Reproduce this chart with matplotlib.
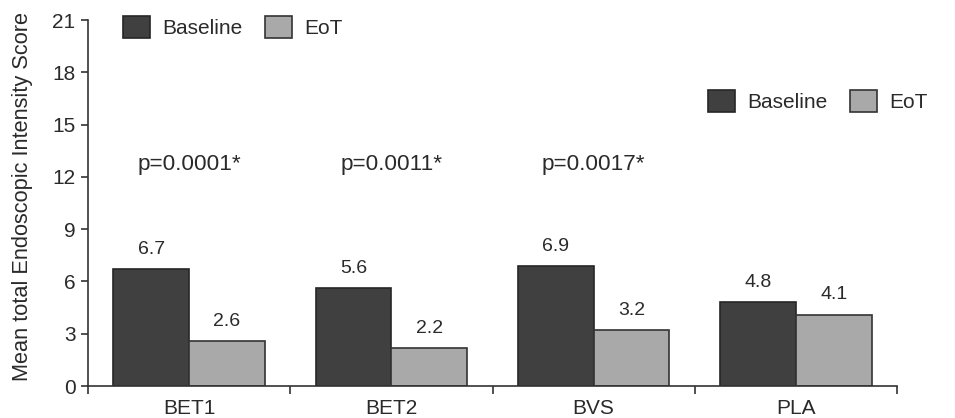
import numpy as np
import matplotlib.pyplot as plt

categories = ["BET1", "BET2", "BVS", "PLA"]
baseline = [6.7, 5.6, 6.9, 4.8]
eot = [2.6, 2.2, 3.2, 4.1]
pvalues = ["p=0.0001*", "p=0.0011*", "p=0.0017*", ""]
yticks = [0, 3, 6, 9, 12, 15, 18, 21]

plt.rcParams['font.family'] = ['Liberation Sans', 'DejaVu Sans']
txt = '#2a2a2a'

fig = plt.figure(figsize=(9.55, 4.18), dpi=100)
ax = fig.add_axes([88/955, 1-386/418, (897-88)/955, (386-20)/418])

x = np.arange(len(categories))
w = 0.375
b1 = ax.bar(x - w/2, baseline, w, color='#404040', edgecolor='#262626', linewidth=1.2, label='Baseline')
b2 = ax.bar(x + w/2, eot, w, color='#a9a9a9', edgecolor='#333333', linewidth=1.2, label='EoT')

for xi, v in zip(x, baseline):
    ax.annotate(f"{v}", (xi - w/2, v), xytext=(0, 8), textcoords='offset points',
                ha='center', va='bottom', fontsize=14, color=txt)
for xi, v in zip(x, eot):
    ax.annotate(f"{v}", (xi + w/2, v), xytext=(0, 8), textcoords='offset points',
                ha='center', va='bottom', fontsize=14, color=txt)
for xi, p in zip(x, pvalues):
    ax.text(xi, 12.7, p, ha='center', va='center', fontsize=16.2, color=txt)

ax.set_xlim(-0.5, 3.5)
ax.set_ylim(0, 21)
ax.set_yticks(yticks)
ax.set_xticks(x)
ax.set_xticklabels(categories)
ax.set_xticks(np.arange(-0.5, 4, 1), minor=True)
ax.tick_params(axis='x', which='major', length=0, pad=9, labelsize=15, labelcolor=txt)
ax.tick_params(axis='x', which='minor', length=6, width=1.2, color='#333333', direction='out')
ax.tick_params(axis='y', length=5, width=1.2, color='#333333', labelsize=15, labelcolor=txt, pad=4)
for s in ['top', 'right']:
    ax.spines[s].set_visible(False)
for s in ['left', 'bottom']:
    ax.spines[s].set_linewidth(1.2)
    ax.spines[s].set_color('#333333')

ax.set_ylabel("Mean total Endoscopic Intensity Score", fontsize=15.7, color=txt)
ax.yaxis.set_label_coords(-0.068, 0.518)

leg_kw = dict(ncol=2, frameon=False, fontsize=15, handlelength=1.3, handleheight=1.25,
              handletextpad=0.6, columnspacing=1.05, borderpad=0, borderaxespad=0,
              labelcolor=txt)
leg1 = fig.legend(handles=[b1, b2], loc='upper left',
                  bbox_to_anchor=(123/955, 1-16/418), **leg_kw)
leg2 = fig.legend(handles=[b1, b2], loc='upper left',
                  bbox_to_anchor=(708/955, 1-90/418), **leg_kw)

fig.savefig("out.png", dpi=100)
